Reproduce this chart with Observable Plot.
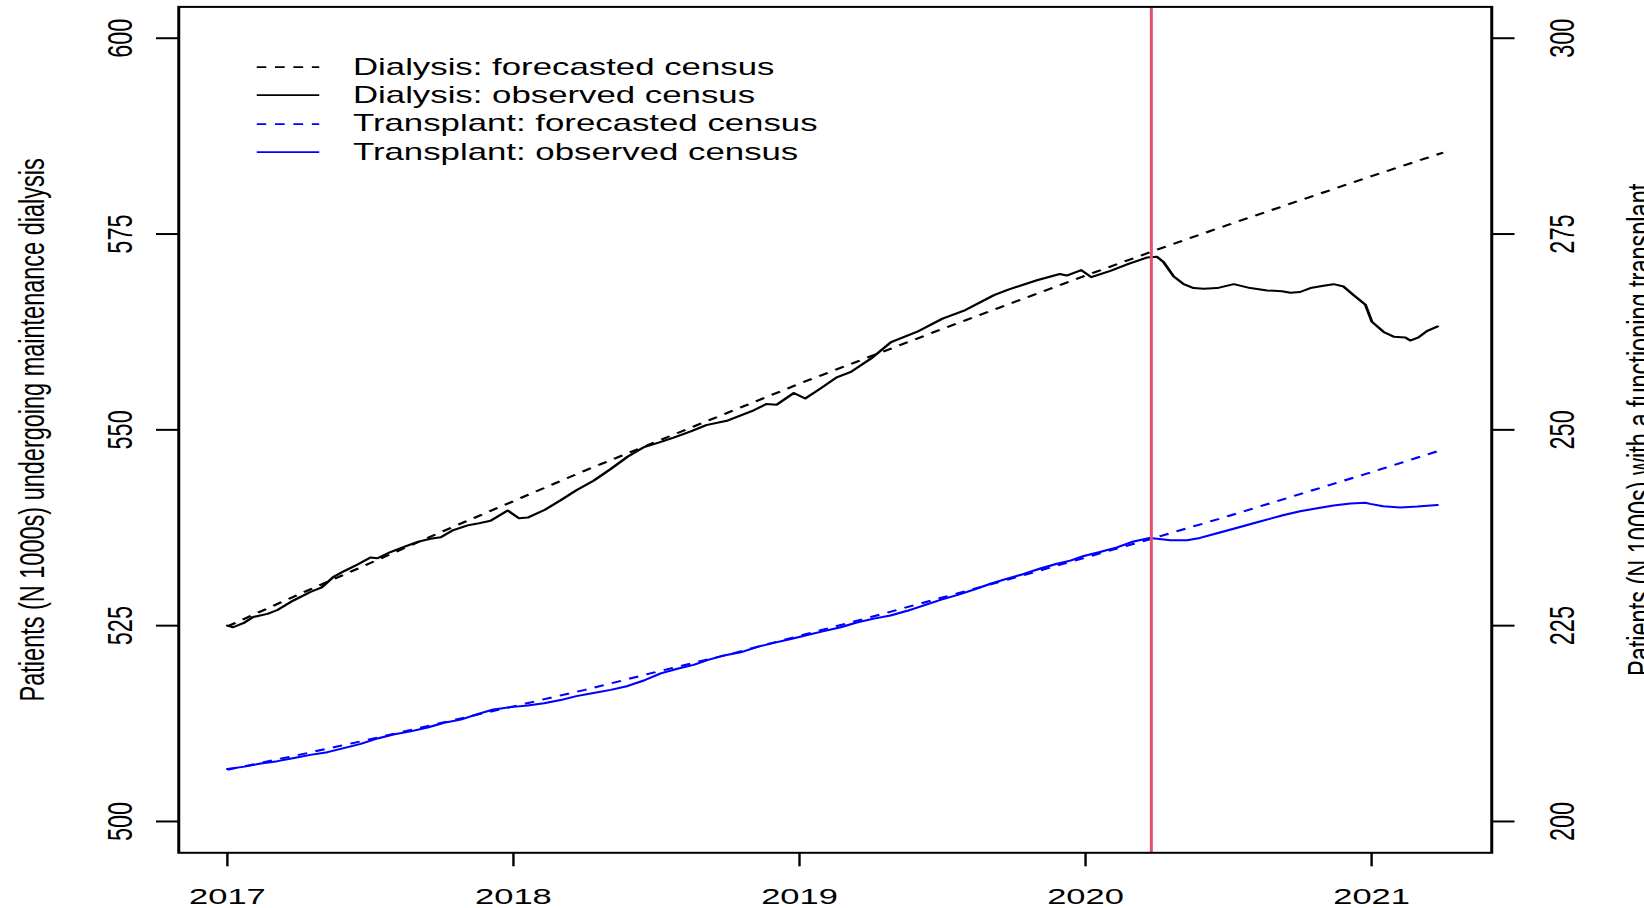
<!DOCTYPE html>
<html>
<head>
<meta charset="utf-8">
<script src="https://cdn.jsdelivr.net/npm/d3@7"></script>
<script src="https://cdn.jsdelivr.net/npm/@observablehq/plot@0.6"></script>
<style>
  html, body { margin: 0; padding: 0; background: #fff; overflow: hidden; }
  #wrap { position: relative; width: 1096px; height: 908px; transform: scaleX(1.5); transform-origin: 0 0;
          font-family: "Liberation Sans", Arial, Helvetica, sans-serif; color: #000; }
  #legend { position: absolute; left: 171.3px; top: 53px; }
  .row { display: flex; align-items: center; height: 28.3px; }
  .row svg { display: block; margin-right: 22px; }
  .row span { font-size: 23.2px; white-space: nowrap; line-height: 1.15; }
</style>
</head>
<body>
<div id="wrap"><div id="chart"></div><div id="legend"></div></div>
<script>
// ---------- data ----------
const xTicks = [2017, 2018, 2019, 2020, 2021];
const leftTicks = [500, 525, 550, 575, 600];
const rightTicks = [200, 225, 250, 275, 300];
const transplantOffset = 300; // right axis 200–300 shares positions with left axis 500–600
const lockdownYear = [2020.23];

const forecastYears = [2017.00, 2017.25, 2017.50, 2017.75, 2018.00, 2018.25, 2018.50, 2018.75, 2019.00,
  2019.25, 2019.50, 2019.75, 2020.00, 2020.25, 2020.50, 2020.75, 2021.00, 2021.25];
const dialysisForecast = [524.9, 529.0, 533.0, 537.0, 540.9, 544.8, 548.5, 552.2, 555.9,
  559.4, 562.9, 566.3, 569.7, 573.0, 576.2, 579.3, 582.4, 585.4];
const transplantForecast = [206.6, 208.5, 210.5, 212.6, 214.7, 216.8, 219.1, 221.3, 223.7,
  226.1, 228.6, 231.1, 233.7, 236.3, 239.0, 241.8, 244.6, 247.5];

const dialysisObsYears = [2017.00, 2017.02, 2017.06, 2017.09, 2017.14, 2017.175, 2017.23, 2017.29, 2017.33, 2017.37,
  2017.41, 2017.455, 2017.50, 2017.525, 2017.57, 2017.62, 2017.665, 2017.71, 2017.746, 2017.79,
  2017.84, 2017.87, 2017.92, 2017.98, 2018.02, 2018.05, 2018.11, 2018.165, 2018.22, 2018.28,
  2018.34, 2018.40, 2018.457, 2018.51, 2018.56, 2018.62, 2018.674, 2018.75, 2018.84, 2018.884,
  2018.92, 2018.98, 2019.02, 2019.07, 2019.13, 2019.18, 2019.25, 2019.32, 2019.41, 2019.50,
  2019.58, 2019.68, 2019.73, 2019.83, 2019.91, 2019.934, 2019.985, 2020.02, 2020.087, 2020.15,
  2020.214, 2020.25, 2020.273, 2020.308, 2020.343, 2020.378, 2020.413, 2020.46, 2020.518, 2020.576,
  2020.635, 2020.687, 2020.716, 2020.75, 2020.786, 2020.832, 2020.867, 2020.902, 2020.937, 2020.978,
  2021.001, 2021.042, 2021.077, 2021.118, 2021.135, 2021.164, 2021.193, 2021.231];
const dialysisObs = [525.0, 524.8, 525.4, 526.1, 526.5, 527.0, 528.2, 529.3, 529.9, 531.2,
  532.0, 532.8, 533.7, 533.6, 534.4, 535.1, 535.7, 536.1, 536.3, 537.2,
  537.8, 538.0, 538.4, 539.7, 538.7, 538.8, 539.8, 541.0, 542.3, 543.5,
  545.0, 546.6, 547.8, 548.4, 549.0, 549.8, 550.6, 551.2, 552.5, 553.3,
  553.2, 554.7, 554.0, 555.2, 556.7, 557.4, 559.1, 561.2, 562.5, 564.2,
  565.3, 567.2, 567.9, 569.1, 569.9, 569.7, 570.4, 569.5, 570.3, 571.2,
  572.0, 572.1, 571.4, 569.6, 568.6, 568.1, 568.0, 568.1, 568.6, 568.1,
  567.8, 567.7, 567.5, 567.6, 568.1, 568.4, 568.6, 568.3, 567.2, 566.0,
  563.8, 562.5, 561.9, 561.8, 561.4, 561.8, 562.6, 563.2];

const transplantObsYears = [2017.00, 2017.06, 2017.117, 2017.175, 2017.233, 2017.29, 2017.35, 2017.41, 2017.466, 2017.525,
  2017.58, 2017.64, 2017.70, 2017.757, 2017.816, 2017.874, 2017.93, 2017.99, 2018.05, 2018.107,
  2018.165, 2018.22, 2018.28, 2018.34, 2018.40, 2018.456, 2018.515, 2018.573, 2018.63, 2018.678,
  2018.736, 2018.794, 2018.853, 2018.91, 2018.97, 2019.027, 2019.085, 2019.144, 2019.20, 2019.26,
  2019.318, 2019.377, 2019.435, 2019.493, 2019.55, 2019.61, 2019.668, 2019.726, 2019.784, 2019.842,
  2019.90, 2019.947, 2019.994, 2020.05, 2020.11, 2020.168, 2020.224, 2020.25, 2020.297, 2020.355,
  2020.40, 2020.46, 2020.54, 2020.60, 2020.69, 2020.75, 2020.81, 2020.867, 2020.926, 2020.978,
  2020.995, 2021.04, 2021.10, 2021.16, 2021.23];
const transplantObs = [206.7, 207.0, 207.4, 207.7, 208.1, 208.5, 208.85, 209.4, 209.9, 210.6,
  211.1, 211.5, 212.0, 212.6, 213.0, 213.7, 214.3, 214.6, 214.8, 215.1,
  215.5, 216.0, 216.4, 216.8, 217.3, 218.0, 218.9, 219.5, 220.0, 220.6,
  221.2, 221.6, 222.3, 222.8, 223.3, 223.8, 224.3, 224.8, 225.4, 225.9,
  226.3, 226.9, 227.6, 228.3, 228.9, 229.6, 230.35, 231.0, 231.6, 232.3,
  232.9, 233.3, 233.9, 234.4, 235.0, 235.75, 236.2, 236.1, 235.9, 235.9,
  236.2, 236.8, 237.6, 238.2, 239.1, 239.6, 240.0, 240.35, 240.6, 240.7,
  240.55, 240.25, 240.1, 240.2, 240.4];

const legendLabels = ["Dialysis: forecasted census", "Dialysis: observed census",
  "Transplant: forecasted census", "Transplant: observed census"];
const leftTitle = "Patients (N 1000s) undergoing maintenance dialysis";
const rightTitle = "Patients (N 1000s) with a functioning transplant";

// ---------- build tables ----------
const rows = (xs, vs) => xs.map((x, i) => ({x, v: vs[i]}));
const dF = rows(forecastYears, dialysisForecast);
const dO = rows(dialysisObsYears, dialysisObs);
const tF = rows(forecastYears, transplantForecast);
const tO = rows(transplantObsYears, transplantObs);

const DASH = "6.5,5.8";
const styles = [
  {stroke: "#000", dash: DASH},
  {stroke: "#000", dash: null},
  {stroke: "#0000ff", dash: DASH},
  {stroke: "#0000ff", dash: null}
];
const lineOpts = (s, yfn) => ({x: "x", y: yfn, stroke: s.stroke, strokeWidth: 2,
  strokeDasharray: s.dash ?? undefined, strokeLinecap: s.dash ? "butt" : "round"});

const chart = Plot.plot({
  width: 1096, height: 908,
  marginLeft: 118.67, marginRight: 102, marginTop: 6.4, marginBottom: 55.7,
  style: {fontFamily: '"Liberation Sans", Arial, Helvetica, sans-serif', fontSize: "23px", background: "white", color: "black"},
  x: {domain: [2016.83, 2021.42], label: null},
  y: {domain: [496, 604], label: null},
  marks: [
    Plot.line(dF, lineOpts(styles[0], "v")),
    Plot.line(dO, lineOpts(styles[1], "v")),
    Plot.line(tF, lineOpts(styles[2], d => d.v + transplantOffset)),
    Plot.line(tO, lineOpts(styles[3], d => d.v + transplantOffset)),
    Plot.ruleX(lockdownYear, {stroke: "#DF536B", strokeWidth: 2}),
    Plot.frame({stroke: "black", strokeWidth: 2}),
    Plot.axisX(xTicks, {anchor: "bottom", tickSize: 14, tickPadding: 21, tickFormat: d => String(d),
      label: null, fontSize: 23, strokeWidth: 1.6}),
    Plot.axisY(leftTicks, {anchor: "left", tickSize: 14.67, tickPadding: 16.7, tickRotate: -90,
      textAnchor: "middle", lineAnchor: "bottom", tickFormat: d => String(d), label: null, fontSize: 23.5, strokeWidth: 2}),
    Plot.axisY(rightTicks.map(t => t + transplantOffset), {anchor: "right", tickSize: 14.67, tickPadding: 40, tickRotate: -90,
      textAnchor: "middle", lineAnchor: "bottom", tickFormat: d => String(d - transplantOffset), label: null, fontSize: 23.5, strokeWidth: 2}),
    Plot.text([leftTitle], {text: d => d, frameAnchor: "left", dx: -90, rotate: -90,
      textAnchor: "middle", lineAnchor: "bottom", fontSize: 23.5}),
    Plot.text([rightTitle], {text: d => d, frameAnchor: "right", dx: 106.8, rotate: -90,
      textAnchor: "middle", lineAnchor: "bottom", fontSize: 23.5})
  ]
});
document.getElementById("chart").appendChild(chart);

// ---------- legend ----------
const legend = document.getElementById("legend");
legendLabels.forEach((label, i) => {
  const s = styles[i];
  const row = document.createElement("div");
  row.className = "row";
  row.innerHTML = `<svg width="42" height="28.3"><line x1="0" x2="42" y1="14.15" y2="14.15" stroke="${s.stroke}" stroke-width="1.9"
    ${s.dash ? `stroke-dasharray="${s.dash}"` : ""} stroke-linecap="butt"/></svg><span>${label}</span>`;
  legend.appendChild(row);
});
</script>
</body>
</html>
